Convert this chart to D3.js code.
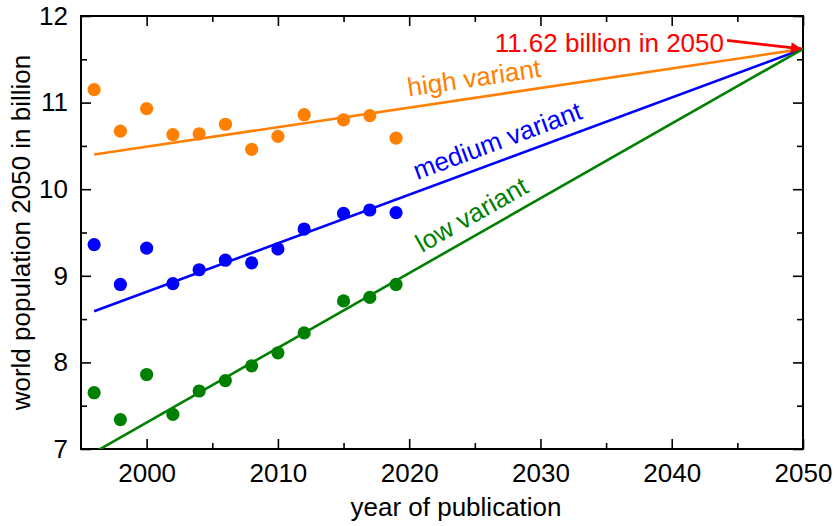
<!DOCTYPE html>
<html>
<head>
<meta charset="utf-8">
<script src="https://cdn.jsdelivr.net/npm/d3@7/dist/d3.min.js"></script>
<style>
  html, body { margin: 0; padding: 0; background: #fff; }
  svg { display: block; }
  text { font-family: "Liberation Sans", Arial, sans-serif; }
</style>
</head>
<body>
<svg id="chart" width="837" height="526"></svg>
<script>
// UN World Population Prospects: projected world population in 2050 (billion)
const years = [1996, 1998, 2000, 2002, 2004, 2006, 2008, 2010, 2012, 2015, 2017, 2019];
const high = [11.15, 10.67, 10.93, 10.63, 10.64, 10.75, 10.46, 10.61, 10.86, 10.80, 10.85, 10.59];
const medium = [9.36, 8.90, 9.32, 8.91, 9.07, 9.18, 9.15, 9.31, 9.54, 9.72, 9.76, 9.73];
const low = [7.65, 7.34, 7.86, 7.40, 7.67, 7.79, 7.96, 8.11, 8.34, 8.71, 8.75, 8.90];

// trend lines converging on the 2050 value
const trendYears = [1996, 2050];
const highTrend = [10.40, 11.62];
const mediumTrend = [8.59, 11.62];
const lowTrend = [6.96, 11.62];

const seriesNames = ["high variant", "medium variant", "low variant"];
const seriesColors = ["#ff8000", "#0000ff", "#008000"];

const xMajorTicks = [2000, 2010, 2020, 2030, 2040, 2050];
const xMinorTicks = [2005, 2015, 2025, 2035, 2045];
const yMajorTicks = [7, 8, 9, 10, 11, 12];
const yMinorTicks = [7.5, 8.5, 9.5, 10.5, 11.5];

const target = { year: 2050, value: 11.62, label: "11.62 billion in 2050" };

const svg = d3.select("#chart");
const margin = { left: 81, top: 16, right: 34, bottom: 77 };
const W = 837, H = 526;
const iw = W - margin.left - margin.right;
const ih = H - margin.top - margin.bottom;

const x = d3.scaleLinear().domain([1995, 2050]).range([0, iw]);
const y = d3.scaleLinear().domain([7, 12]).range([ih, 0]);

const g = svg.append("g").attr("transform", `translate(${margin.left},${margin.top})`);

g.append("defs").append("clipPath").attr("id", "plotclip")
  .append("rect").attr("width", iw).attr("height", ih);

const FS = 26;

// axes with inward ticks on all four sides
function styleAxis(sel) {
  sel.select(".domain").remove();
  sel.selectAll(".tick line").attr("stroke", "#000").attr("stroke-width", 1.6);
  sel.selectAll("text").attr("font-size", FS).attr("fill", "#000")
    .style("font-family", '"Liberation Sans", Arial, sans-serif');
}
g.append("g").attr("transform", `translate(0,${ih})`)
  .call(d3.axisBottom(x).tickValues(xMajorTicks).tickSize(-10).tickPadding(15).tickFormat(d3.format("d")))
  .call(styleAxis);
g.append("g").attr("transform", `translate(0,${ih})`)
  .call(d3.axisBottom(x).tickValues(xMinorTicks).tickSize(-6).tickFormat(""))
  .call(styleAxis);
g.append("g")
  .call(d3.axisTop(x).tickValues(xMajorTicks).tickSize(-10).tickFormat(""))
  .call(styleAxis);
g.append("g")
  .call(d3.axisTop(x).tickValues(xMinorTicks).tickSize(-6).tickFormat(""))
  .call(styleAxis);
g.append("g")
  .call(d3.axisLeft(y).tickValues(yMajorTicks).tickSize(-10).tickPadding(13).tickFormat(d3.format("d")))
  .call(styleAxis);
g.append("g")
  .call(d3.axisLeft(y).tickValues(yMinorTicks).tickSize(-6).tickFormat(""))
  .call(styleAxis);
g.append("g").attr("transform", `translate(${iw},0)`)
  .call(d3.axisRight(y).tickValues(yMajorTicks).tickSize(-10).tickFormat(""))
  .call(styleAxis);
g.append("g").attr("transform", `translate(${iw},0)`)
  .call(d3.axisRight(y).tickValues(yMinorTicks).tickSize(-6).tickFormat(""))
  .call(styleAxis);

// frame
g.append("rect").attr("width", iw).attr("height", ih)
  .attr("fill", "none").attr("stroke", "#000").attr("stroke-width", 2);

// axis titles
svg.append("text")
  .attr("x", 456).attr("y", 516)
  .attr("text-anchor", "middle").attr("font-size", FS).attr("fill", "#000")
  .text("year of publication");
svg.append("text")
  .attr("transform", `translate(30,${margin.top + ih / 2}) rotate(-90)`)
  .attr("text-anchor", "middle").attr("font-size", FS).attr("fill", "#000")
  .text("world population 2050 in billion");

const trends = [highTrend, mediumTrend, lowTrend];
const values = [high, medium, low];
const labelYears = [2020.1, 2020.9, 2021.4];

const line = d3.line().x(d => x(d[0])).y(d => y(d[1]));
const plot = g.append("g").attr("clip-path", "url(#plotclip)");

trends.forEach((t, i) => {
  plot.append("path")
    .datum(trendYears.map((yr, k) => [yr, t[k]]))
    .attr("d", line)
    .attr("fill", "none")
    .attr("stroke", seriesColors[i])
    .attr("stroke-width", 2.6);
});

values.forEach((v, i) => {
  plot.append("g").selectAll("circle")
    .data(years.map((yr, k) => [yr, v[k]]))
    .join("circle")
    .attr("cx", d => x(d[0]))
    .attr("cy", d => y(d[1]))
    .attr("r", 6.6)
    .attr("fill", seriesColors[i]);
});

// labels running along each trend line
trends.forEach((t, i) => {
  const x0 = x(trendYears[0]), y0 = y(t[0]);
  const x1 = x(trendYears[1]), y1 = y(t[1]);
  const angle = Math.atan2(y1 - y0, x1 - x0) * 180 / Math.PI;
  const ly = labelYears[i];
  const frac = (ly - trendYears[0]) / (trendYears[1] - trendYears[0]);
  const lv = t[0] + frac * (t[1] - t[0]);
  g.append("text")
    .attr("transform", `translate(${x(ly)},${y(lv)}) rotate(${angle})`)
    .attr("y", -11)
    .attr("font-size", FS)
    .attr("fill", seriesColors[i])
    .text(seriesNames[i]);
});

// annotation arrow for the common 2050 value
const tx = x(target.year), ty = y(target.value);
g.append("defs").append("marker")
  .attr("id", "arrowhead")
  .attr("viewBox", "0 0 10 10")
  .attr("refX", 10).attr("refY", 5)
  .attr("markerUnits", "userSpaceOnUse")
  .attr("markerWidth", 18).attr("markerHeight", 11)
  .attr("orient", "auto")
  .append("path").attr("d", "M0,0 L10,5 L0,10 Z").attr("fill", "#ff0000");
g.append("line")
  .attr("x1", tx - 76).attr("y1", ty - 8.5)
  .attr("x2", tx - 1).attr("y2", ty)
  .attr("stroke", "#ff0000").attr("stroke-width", 2.6)
  .attr("marker-end", "url(#arrowhead)");
g.append("text")
  .attr("x", tx - 79).attr("y", ty + 3)
  .attr("text-anchor", "end")
  .attr("font-size", FS)
  .attr("fill", "#ff0000")
  .text(target.label);
</script>
</body>
</html>
